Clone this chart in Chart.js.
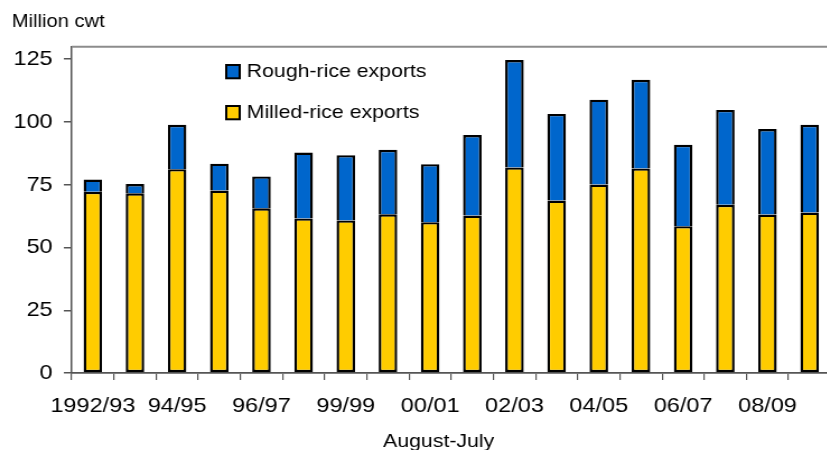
<!DOCTYPE html>
<html lang="en">
<head>
    <meta charset="UTF-8">
    <title>U.S. rice exports</title>
    <script src="https://cdn.jsdelivr.net/npm/chart.js"></script>
    <style>
        body { margin: 0; overflow: hidden; background: #fff; }
        /* the chart is drawn a little narrow and stretched sideways */
        #wrap { width: 748px; height: 450px; transform: scaleX(1.12); transform-origin: 0 0; }
    </style>
</head>
<body>
    <div id="wrap">
        <canvas id="chart1"></canvas>
    </div>

    <script>
        // Marketing years, August-July
        const seasons = ['1992/93', '93/94', '94/95', '95/96', '96/97', '97/98', '99/99', '99/00', '00/01',
                         '01/02', '02/03', '03/04', '04/05', '05/06', '06/07', '07/08', '08/09', '09/10'];

        // Million cwt
        const milled = [72.2, 71.6, 81.2, 72.7, 65.6, 61.6, 60.8, 63.2, 60.1,
                        62.7, 81.9, 68.7, 75.1, 81.5, 58.5, 67.0, 63.1, 63.9];
        const rough = [4.9, 3.7, 17.7, 10.7, 12.7, 26.2, 26.0, 25.7, 23.1,
                       32.1, 42.8, 34.5, 33.8, 35.3, 32.4, 37.8, 34.1, 35.0];

        const yTicks = [0, 25, 50, 75, 100, 125];

        const font = 'Liberation Sans';

        // unit caption, top frame line, the boxed legend and the x caption
        const extras = {
            id: 'extras',
            afterDraw(chart) {
                const { ctx, chartArea: a } = chart;
                ctx.save();

                ctx.fillStyle = '#000';
                ctx.font = '18px "' + font + '"';
                ctx.textAlign = 'left';
                ctx.textBaseline = 'alphabetic';
                ctx.fillText('Million cwt', 10.4, 26.7);

                ctx.strokeStyle = '#8c8c8c';
                ctx.lineWidth = 2;
                ctx.beginPath();
                ctx.moveTo(a.left, a.top);
                ctx.lineTo(chart.width, a.top);
                ctx.stroke();

                const items = chart.data.datasets.slice().reverse();
                ctx.font = '19px "' + font + '"';
                items.forEach((ds, i) => {
                    const y = 65 + i * 41;
                    ctx.fillStyle = ds.backgroundColor;
                    ctx.fillRect(202, y, 12, 13.3);
                    ctx.strokeStyle = '#000';
                    ctx.lineWidth = 2;
                    ctx.strokeRect(202, y, 12, 13.3);
                    ctx.fillStyle = '#000';
                    ctx.fillText(ds.label, 220.3, y + 12.4);
                });

                ctx.textAlign = 'center';
                ctx.fillText('August-July', 391.7, 447);
                ctx.restore();
            }
        };

        new Chart(document.getElementById('chart1'), {
            type: 'bar',
            data: {
                labels: seasons,
                datasets: [{
                    label: 'Milled-rice exports',
                    data: milled,
                    backgroundColor: '#ffcc00',
                    borderColor: '#000',
                    borderWidth: 2.4,
                    borderSkipped: false
                }, {
                    label: 'Rough-rice exports',
                    data: rough,
                    backgroundColor: '#0066cc',
                    borderColor: '#000',
                    borderWidth: 2.4
                }]
            },
            options: {
                responsive: true,
                maintainAspectRatio: false,
                animation: false,
                datasets: {
                    bar: { barPercentage: 0.44, categoryPercentage: 1 }
                },
                layout: {
                    padding: { left: 2, right: 6.3, top: 46.7, bottom: 16.8 }
                },
                plugins: {
                    legend: { display: false },
                    tooltip: { enabled: false },
                    title: { display: false }
                },
                scales: {
                    x: {
                        stacked: true,
                        grid: { offset: true, drawOnChartArea: false, tickLength: 7, color: '#555', lineWidth: 1.2 },
                        border: { color: '#555', width: 1.7 },
                        ticks: {
                            autoSkip: false,
                            maxRotation: 0,
                            padding: 14,
                            color: '#000',
                            font: { family: font, size: 21 },
                            callback: (v, i) => (i % 2 === 0 ? seasons[i] : '')
                        }
                    },
                    y: {
                        stacked: true,
                        min: 0,
                        max: 130,
                        afterBuildTicks: axis => { axis.ticks = yTicks.map(v => ({ value: v })); },
                        grid: { drawOnChartArea: false, tickLength: 7, color: '#555', lineWidth: 1.5 },
                        border: { color: '#555', width: 1.5 },
                        ticks: {
                            padding: 10,
                            color: '#000',
                            font: { family: font, size: 21 }
                        }
                    }
                }
            },
            plugins: [extras]
        });
    </script>
</body>
</html>
